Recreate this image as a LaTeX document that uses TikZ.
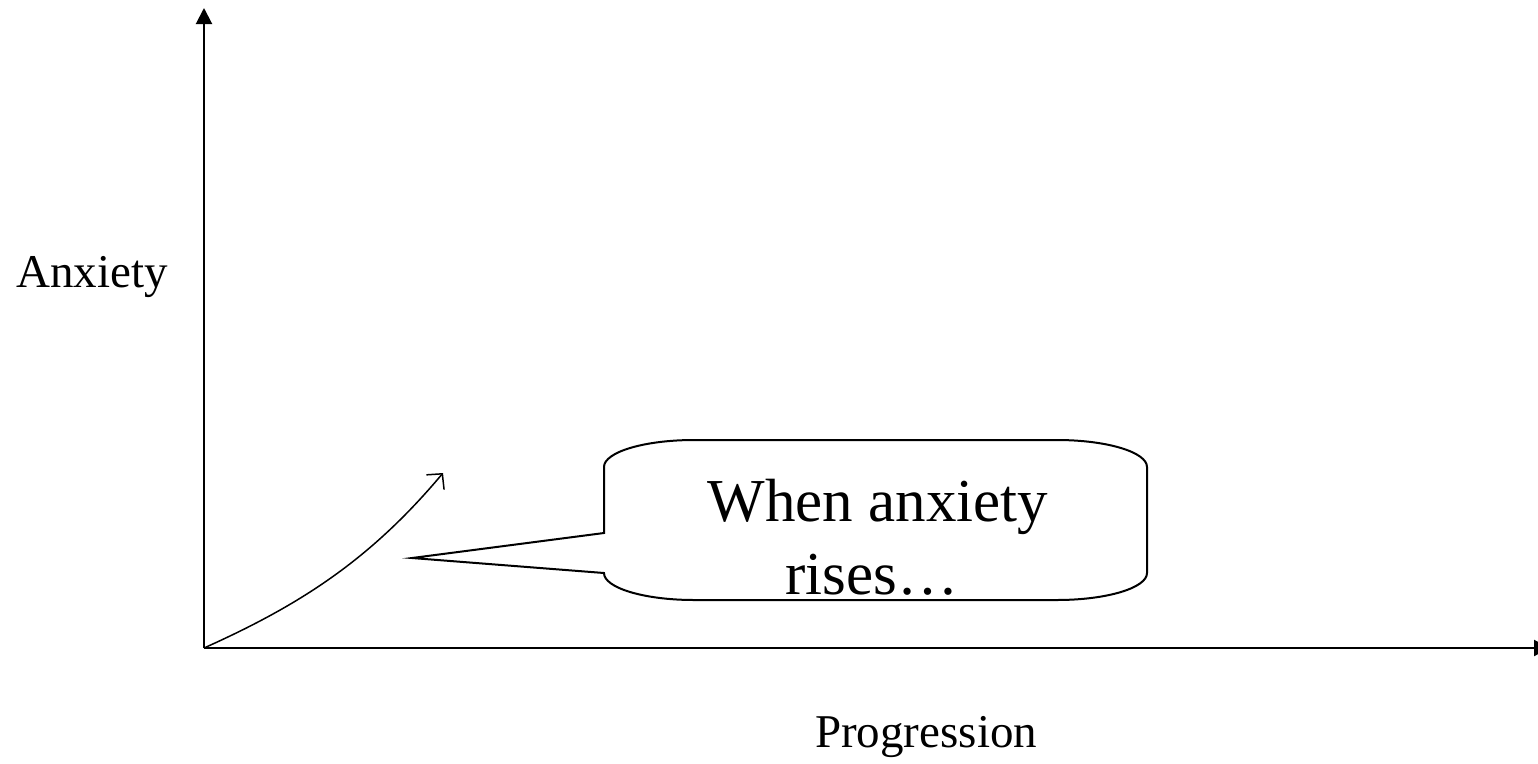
\documentclass[tikz,border=0pt]{standalone}
\usepackage{fontspec}
\setmainfont{Liberation Serif}
\usetikzlibrary{arrows.meta}
\begin{document}
\begin{tikzpicture}[x=1pt,y=-1pt,
  axis/.style={line width=2pt,-{Triangle[length=16pt,width=16pt]}},
  curve/.style={line width=1.5pt,-{Straight Barb[length=11pt,width=23pt,line width=1.5pt]}},
  callout/.style={line width=2pt,fill=white,line join=miter},
  lbl/.style={anchor=base west,inner sep=0pt,font=\fontsize{47}{47}\selectfont},
  big/.style={anchor=base,inner sep=0pt,font=\fontsize{61}{62}\selectfont}]
\useasboundingbox (0,0) rectangle (1538,763);
\coordinate (O) at (204,648);
\coordinate (ytop) at (204,8);
\coordinate (xend) at (1550,648);
\coordinate (cend) at (443,473);
\coordinate (tip) at (412,558);
\draw[axis] (O) -- (ytop);
\draw[axis] (O) -- (xend);
\draw[curve] (O) .. controls (300,605) and (370,560) .. (cend);
\draw[callout] (tip) -- (604,533) -- (604,467)
  arc[start angle=180,end angle=270,x radius=90,y radius=27] -- (1057,440)
  arc[start angle=270,end angle=360,x radius=90,y radius=27] -- (1147,573)
  arc[start angle=0,end angle=90,x radius=90,y radius=27] -- (694,600)
  arc[start angle=90,end angle=180,x radius=90,y radius=27] -- cycle;
\node[big] (t1) at (878,521) {When anxiety};
\node[big] (t2) at (872,594) {rises…};
\node[lbl] (ylab) at (16,287) {Anxiety};
\node[lbl] (xlab) at (815,747) {Progression};
\end{tikzpicture}
\end{document}
